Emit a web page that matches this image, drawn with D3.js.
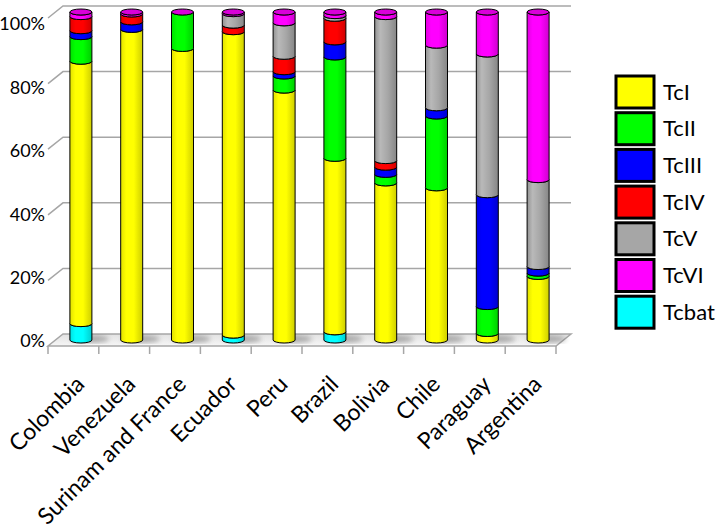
<!DOCTYPE html>
<html>
<head>
<meta charset="utf-8">
<script src="https://cdn.jsdelivr.net/npm/d3@7"></script>
<style>
  body { margin: 0; background: #fff; }
  text { font-family: Lato, "Open Sans", sans-serif; fill: #000; }
</style>
</head>
<body>
<div id="chart"></div>
<script>
// categories and stacked percentages per lineage (bottom to top: Tcbat, TcI ... TcVI)
var categories = ["Colombia", "Venezuela", "Surinam and France", "Ecuador", "Peru",
    "Brazil", "Bolivia", "Chile", "Paraguay", "Argentina"];
var tcbat = [5, 0, 0, 1.5, 0, 2.5, 0, 0, 0, 0];
var tcI   = [80, 94.7, 88.9, 92.5, 76.2, 52.9, 47.9, 46.4, 2.0, 19.4];
var tcII  = [7.5, 0, 11.1, 0, 4.3, 30.9, 2.6, 21.9, 8.2, 1.0];
var tcIII = [1.8, 2.3, 0, 0, 1.3, 4.6, 2.2, 2.5, 34.1, 2.0];
var tcIV  = [4.3, 2.4, 0, 2.0, 4.7, 7.2, 2.0, 0, 0, 0];
var tcV   = [0, 0, 0, 3.5, 10.2, 0.8, 43.9, 19.1, 42.9, 26.5];
var tcVI  = [1.4, 0.6, 0, 0.5, 3.3, 1.1, 1.4, 10.1, 12.8, 51.1];
var yTicks = [0, 20, 40, 60, 80, 100];

var stackKeys = ["Tcbat", "TcI", "TcII", "TcIII", "TcIV", "TcV", "TcVI"];
var legendKeys = ["TcI", "TcII", "TcIII", "TcIV", "TcV", "TcVI", "Tcbat"];
var colors = {TcI: "#ffff00", TcII: "#00ff00", TcIII: "#0000ff", TcIV: "#ff0000",
    TcV: "#a6a6a6", TcVI: "#ff00ff", Tcbat: "#00ffff"};

// build rows for d3.stack
var rows = categories.map(function(c, i) {
    return {cat: c, Tcbat: tcbat[i], TcI: tcI[i], TcII: tcII[i], TcIII: tcIII[i],
        TcIV: tcIV[i], TcV: tcV[i], TcVI: tcVI[i]};
});
var stacked = d3.stack().keys(stackKeys)(rows);

var width = 720, height = 530;
var depthX = 15, depthY = 12;   // offset front -> back of the 3d floor

// front band scale, cylinder value scale (mid depth)
var x = d3.scaleBand().domain(categories).range([48, 556]).padding(0);
var y = d3.scaleLinear().domain([0, 100]).range([340, 12]);
var yLab = d3.scaleLinear().domain([0, 100]).range([341, 24]);
var r = 11, ry = 3;

var svg = d3.select("#chart").append("svg")
    .attr("width", width)
    .attr("height", height);

var defs = svg.append("defs");
stackKeys.forEach(function(k) {
    var base = d3.color(colors[k]);
    var g = defs.append("linearGradient").attr("id", "g-" + k)
        .attr("x1", 0).attr("x2", 1).attr("y1", 0).attr("y2", 0);
    g.append("stop").attr("offset", "0%").attr("stop-color", base.darker(0.35));
    g.append("stop").attr("offset", "25%").attr("stop-color", base.brighter(0.3));
    g.append("stop").attr("offset", "60%").attr("stop-color", base);
    g.append("stop").attr("offset", "100%").attr("stop-color", base.darker(0.6));
});
defs.append("filter").attr("id", "blur")
    .append("feGaussianBlur").attr("stdDeviation", 2.5);
var floorGrad = defs.append("linearGradient").attr("id", "floor")
    .attr("x1", 0).attr("x2", 0).attr("y1", 0).attr("y2", 1);
floorGrad.append("stop").attr("offset", "0%").attr("stop-color", "#e2e2e2");
floorGrad.append("stop").attr("offset", "100%").attr("stop-color", "#f6f6f6");

var x0 = x.range()[0], x1 = x.range()[1];

// floor
svg.append("path")
    .attr("d", "M" + x0 + "," + (y(0) + depthY / 2) + " L" + x1 + "," + (y(0) + depthY / 2) +
        " L" + (x1 + depthX) + "," + (y(0) - depthY / 2) + " L" + (x0 + depthX) + "," + (y(0) - depthY / 2) + "Z")
    .attr("fill", "url(#floor)")
    .attr("stroke", "#a6a6a6")
    .attr("stroke-width", 1.5);

// back wall gridlines
svg.selectAll(".grid")
    .data(yTicks.filter(function(d) { return d > 0; }))
    .enter().append("path")
    .attr("class", "grid")
    .attr("d", function(d) {
        var yb = y(d) - depthY / 2;
        return "M" + x0 + "," + (yb + depthY) + " L" + (x0 + depthX) + "," + yb + " L" + (x1 + depthX) + "," + yb;
    })
    .attr("fill", "none")
    .attr("stroke", "#a6a6a6")
    .attr("stroke-width", 1.5);

// category ticks
svg.selectAll(".tick")
    .data(categories.concat([null]))
    .enter().append("line")
    .attr("x1", function(d) { return d === null ? x1 : x(d); })
    .attr("x2", function(d) { return d === null ? x1 : x(d); })
    .attr("y1", y(0) + depthY / 2)
    .attr("y2", y(0) + depthY / 2 + 8)
    .attr("stroke", "#a6a6a6")
    .attr("stroke-width", 1.5);

// y labels
svg.selectAll(".ylab")
    .data(yTicks)
    .enter().append("text")
    .attr("x", 45)
    .attr("y", function(d) { return yLab(d); })
    .attr("dy", "0.35em")
    .attr("text-anchor", "end")
    .style("font-size", "18px")
    .text(function(d) { return d + "%"; });

// category labels
svg.selectAll(".xlab")
    .data(categories)
    .enter().append("text")
    .attr("transform", function(d) {
        return "translate(" + (x(d) + x.bandwidth() / 2 + 1) + "," + 374 + ") rotate(-45)";
    })
    .attr("dy", "0.71em")
    .attr("text-anchor", "end")
    .style("font-size", "23px")
    .text(function(d) { return d; });

function cx(c) { return x(c) + x.bandwidth() / 2 + depthX / 2; }

// shadows under cylinders
svg.selectAll(".shadow")
    .data(categories)
    .enter().append("ellipse")
    .attr("cx", function(d) { return cx(d) + 9; })
    .attr("cy", y(0) - 1)
    .attr("rx", 19)
    .attr("ry", 4)
    .attr("fill", "#777")
    .attr("opacity", 0.55)
    .attr("filter", "url(#blur)");

// cylinder segments
function segPath(c, v0, v1) {
    var yb = y(v0), yt = y(v1), l = cx(c) - r, rt = cx(c) + r;
    return "M" + l + "," + yt + " L" + l + "," + yb +
        " A" + r + "," + ry + " 0 0 0 " + rt + "," + yb +
        " L" + rt + "," + yt +
        " A" + r + "," + ry + " 0 0 1 " + l + "," + yt + "Z";
}

stacked.forEach(function(layer) {
    svg.selectAll(".seg-" + layer.key)
        .data(layer.filter(function(d) { return d[1] - d[0] > 0; }))
        .enter().append("path")
        .attr("d", function(d) { return segPath(d.data.cat, d[0], d[1]); })
        .attr("fill", "url(#g-" + layer.key + ")")
        .attr("stroke", "#000")
        .attr("stroke-width", 1);
});

// top caps (last series colour, as Excel draws it)
svg.selectAll(".cap")
    .data(categories)
    .enter().append("ellipse")
    .attr("cx", function(d) { return cx(d); })
    .attr("cy", y(100))
    .attr("rx", r)
    .attr("ry", ry)
    .attr("fill", d3.color(colors.TcVI).darker(0.45))
    .attr("stroke", "#000")
    .attr("stroke-width", 1);

// legend
var legend = svg.selectAll(".legend")
    .data(legendKeys)
    .enter().append("g")
    .attr("transform", function(d, i) { return "translate(616," + (76 + i * 36.7) + ")"; });
legend.append("rect")
    .attr("width", 38)
    .attr("height", 32)
    .attr("fill", function(d) { return colors[d]; })
    .attr("stroke", "#000")
    .attr("stroke-width", 3);
legend.append("text")
    .attr("x", 47)
    .attr("y", 16)
    .attr("dy", "0.35em")
    .style("font-size", "22px")
    .text(function(d) { return d; });
</script>
</body>
</html>
